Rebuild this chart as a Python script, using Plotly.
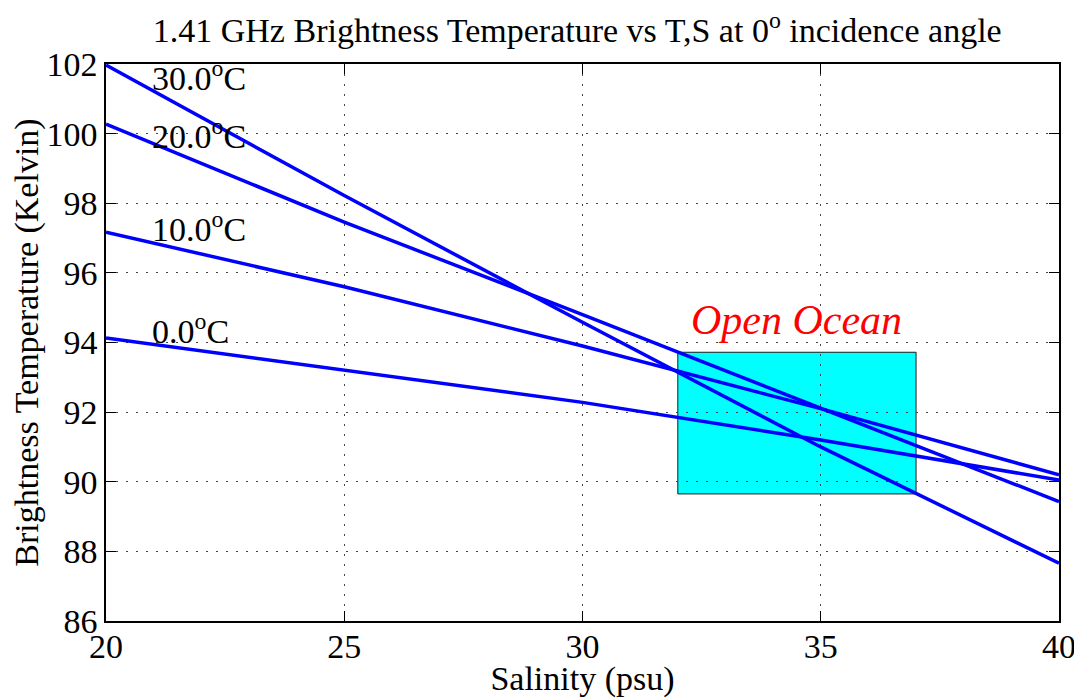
import plotly.graph_objects as go

salinity = [20, 25, 30, 35, 40]
tb_30 = [101.97, 98.22, 94.58, 91.00, 87.66]
tb_20 = [100.27, 97.46, 94.80, 92.12, 89.43]
tb_10 = [97.17, 95.60, 93.90, 92.10, 90.20]
tb_0 = [94.13, 93.20, 92.28, 91.20, 90.05]
series = [("30.0", tb_30), ("20.0", tb_20), ("10.0", tb_10), ("0.0", tb_0)]
label_y = [101.65, 99.98, 97.33, 94.38]
label_x = 20.92
box_s = [32, 37]
box_tb = [89.65, 93.72]

FONT = "Liberation Serif"
FS = 34

fig = go.Figure()
for name, vals in series:
    fig.add_trace(go.Scatter(x=salinity, y=vals, mode="lines",
                             line=dict(color="#0000ff", width=3.5),
                             name=name, showlegend=False, hoverinfo="skip"))

fig.add_shape(type="rect", x0=box_s[0], x1=box_s[1], y0=box_tb[0], y1=box_tb[1],
              fillcolor="#00ffff", line=dict(color="#1a1a1a", width=1), layer="below")

for (name, _), ly in zip(series, label_y):
    fig.add_annotation(x=label_x, y=ly, text=f"{name}<sup>o</sup>C", showarrow=False,
                       xanchor="left", yanchor="middle",
                       font=dict(family=FONT, size=FS, color="black"))

fig.add_annotation(x=34.5, y=94.66, text="<i>Open Ocean</i>", showarrow=False,
                   xanchor="center", yanchor="middle",
                   font=dict(family=FONT, size=42, color="#ff0000"))

axis_common = dict(showline=True, linecolor="black", linewidth=1.5, mirror="ticks",
                   ticks="inside", ticklen=10, tickcolor="black", tickwidth=1,
                   showgrid=True, gridcolor="#444444", griddash="2px,8px", gridwidth=1,
                   zeroline=False, automargin=False,
                   tickfont=dict(family=FONT, size=FS, color="black"))

fig.update_xaxes(range=[20, 40], tickvals=[20, 25, 30, 35, 40], ticklabelstandoff=-6,
                 title=dict(text="Salinity (psu)", font=dict(family=FONT, size=FS, color="black"), standoff=6),
                 **axis_common)
fig.update_yaxes(range=[86, 102], tickvals=list(range(86, 103, 2)),
                 title=dict(text="Brightness Temperature (Kelvin)", font=dict(family=FONT, size=FS, color="black"), standoff=4),
                 **axis_common)

fig.update_layout(
    width=1074, height=690,
    margin=dict(l=98, r=23, t=56, b=77),
    paper_bgcolor="white", plot_bgcolor="white",
    title=dict(text="1.41 GHz Brightness Temperature vs T,S at 0<sup>o</sup> incidence angle",
               x=0.53, xanchor="center", y=0.968, yanchor="middle",
               font=dict(family=FONT, size=FS, color="black")),
)

fig.write_html("out.html")
